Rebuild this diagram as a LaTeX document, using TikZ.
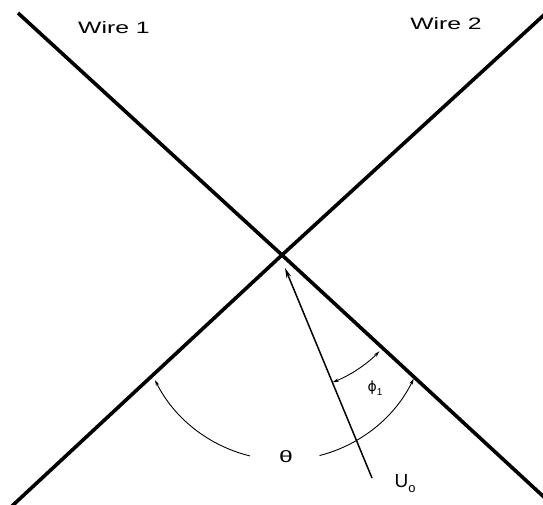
\documentclass[tikz,border=0pt]{standalone}
\usepackage{graphicx}
\usepackage{fontspec}
\setmainfont{Liberation Sans}
\newfontfamily\symfont{DejaVu Sans}
\usetikzlibrary{arrows.meta}
\tikzset{
	wire/.style={line width=3.6pt},
	ray/.style={line width=1.5pt,-{Stealth[length=10pt,width=5pt]}},
	ang/.style={line width=0.9pt},
	lab/.style={inner sep=0pt,font=\fontsize{16.5}{19}\selectfont}
}

\begin{document}
\begin{tikzpicture}[x=1pt,y=-1pt]
\useasboundingbox (0,0) rectangle (543,504);
% wires crossing
\coordinate (c) at (282,255);
\coordinate (w1a) at (18,13);
\coordinate (w1b) at (545,498);
\coordinate (w2a) at (12,506);
\coordinate (w2b) at (545,14);
\draw[wire] (w1a)--(c)--(w1b);
\draw[wire] (w2a)--(c)--(w2b);
\node[lab] (wire1) at (114,28) {\scalebox{1.5}[1]{Wire 1}};
\node[lab] (wire2) at (446,24) {\scalebox{1.5}[1]{Wire 2}};
% incoming velocity
\coordinate (utail) at (372,478);
\coordinate (uhead) at (285,268);
\draw[ray] (utail)--(uhead);
\node[lab,font=\fontsize{19}{22}\selectfont] (u0) at (405,484) {U\raisebox{-5pt}{\fontsize{13}{13}\selectfont o}};
% angle theta
\coordinate (tc) at (284,316);
\draw[ang,-{Stealth[length=6pt,width=3.5pt]}] ([shift={(tc)}]103.7:144) arc[start angle=103.7,end angle=153.6,radius=144];
\draw[ang,-{Stealth[length=6pt,width=3.5pt]}] ([shift={(tc)}]75.7:144) arc[start angle=75.7,end angle=25.8,radius=144];
\node[lab] (theta) at (286,457) {\scalebox{1.5}[1]{θ}};
% angle phi
\draw[ang,{Stealth[length=6pt,width=3.5pt]}-{Stealth[length=6pt,width=3.5pt]}] ([shift={(c)}]68.3:137) arc[start angle=68.3,end angle=44.7,radius=137];
\node[lab] (phi) at (375,388) {{\symfont\fontsize{14}{16}\selectfont ϕ}\raisebox{-4pt}{\fontsize{10}{10}\selectfont 1}};
\end{tikzpicture}
\end{document}
